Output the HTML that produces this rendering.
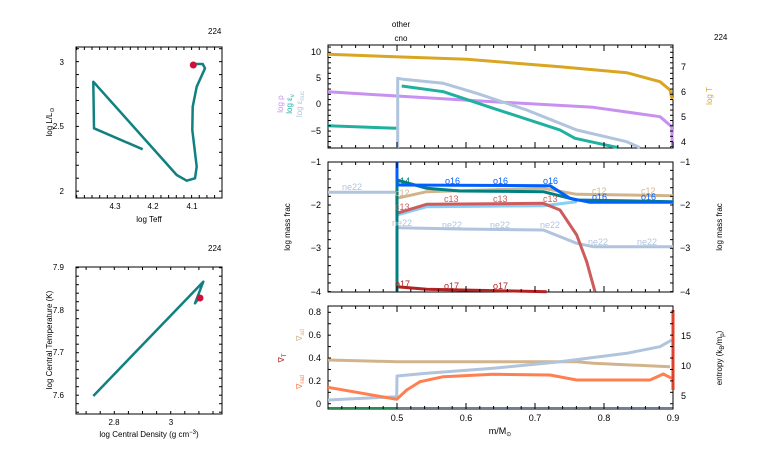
<!DOCTYPE html>
<html><head><meta charset="utf-8"><style>
body{margin:0;background:#fff;}
svg{display:block;font-family:"Liberation Sans",sans-serif;}
</style></head><body>
<svg id="s" width="766" height="460" viewBox="0 0 766 460" xmlns="http://www.w3.org/2000/svg">
<rect width="766" height="460" fill="#fff"/>
<g font-size="8" fill="#000">
<!-- Left top: HR -->
<text x="208" y="34">224</text>
<rect x="76" y="47" width="146" height="151" fill="none" stroke="#000" stroke-width="1"/>
<text x="64" y="65" text-anchor="end">3</text>
<text x="64" y="129" text-anchor="end">2.5</text>
<text x="64" y="194" text-anchor="end">2</text>
<text x="115" y="209" text-anchor="middle">4.3</text>
<text x="153" y="209" text-anchor="middle">4.2</text>
<text x="192" y="209" text-anchor="middle">4.1</text>
<text x="149" y="222" text-anchor="middle">log Teff</text>
<text transform="translate(52,122) rotate(-90)" text-anchor="middle">log L/L<tspan font-size="6" dy="2">⊙</tspan></text>
<polyline fill="none" stroke="#118080" stroke-width="2.5" stroke-linejoin="round" points="142.7,149.3 94,128.3 93.3,81.7 176.7,175 186.7,180.7 195,178.3 196.7,166.7 192.3,130 192.7,106.7 196.7,86.7 205,68.3 202.7,64 193.3,64"/>
<circle cx="193.3" cy="65" r="3.5" fill="#d0103a"/>
<!-- Left bottom -->
<text x="208" y="251">224</text>
<rect x="76" y="267" width="146" height="147" fill="none" stroke="#000" stroke-width="1"/>
<text x="64" y="270" text-anchor="end">7.9</text>
<text x="64" y="313" text-anchor="end">7.8</text>
<text x="64" y="355" text-anchor="end">7.7</text>
<text x="64" y="398" text-anchor="end">7.6</text>
<text x="114" y="425" text-anchor="middle">2.8</text>
<text x="171" y="425" text-anchor="middle">3</text>
<text x="149" y="437" text-anchor="middle">log Central Density (g cm<tspan font-size="6" dy="-3">−3</tspan><tspan dy="3">)</tspan></text>
<text transform="translate(52,340) rotate(-90)" text-anchor="middle">log Central Temperature (K)</text>
<polyline fill="none" stroke="#118080" stroke-width="2.5" stroke-linejoin="round" points="93.3,396 203.3,281.7 195,303.3 200,296.7"/>
<circle cx="200" cy="298" r="3.5" fill="#d0103a"/>

<!-- Right top -->
<text x="401" y="27" text-anchor="middle">other</text>
<text x="401" y="41" text-anchor="middle">cno</text>
<text x="714" y="40">224</text>
<rect x="328" y="45" width="345" height="103" fill="none" stroke="#000"/>
<text x="321" y="55" text-anchor="end" font-size="9">10</text>
<text x="321" y="81" text-anchor="end" font-size="9">5</text>
<text x="321" y="107" text-anchor="end" font-size="9">0</text>
<text x="321" y="134" text-anchor="end" font-size="9">−5</text>
<text x="681" y="70" font-size="9">7</text>
<text x="681" y="95" font-size="9">6</text>
<text x="681" y="120" font-size="9">5</text>
<text x="681" y="145" font-size="9">4</text>
<text transform="translate(283,104) rotate(-90)" fill="#c890f0" text-anchor="middle">log ρ</text>
<text transform="translate(292,104) rotate(-90)" fill="#20b0a0" text-anchor="middle">log ε<tspan font-size="6" dy="2">ν</tspan></text>
<text transform="translate(302,104) rotate(-90)" fill="#b0c4de" text-anchor="middle">log ε<tspan font-size="6" dy="2">nuc</tspan></text>
<text transform="translate(712,96) rotate(-90)" fill="#daa520" text-anchor="middle">log T</text>
<g fill="none" stroke-width="3" stroke-linejoin="round">
<polyline stroke="#daa520" points="328,54.3 466.7,59.3 560,66.7 626.7,72.7 660,81.7 670,90 672.3,100"/>
<polyline stroke="#c890f0" points="328,91.7 396.7,96 493.3,101.7 593.3,107.3 660,116.7 671.7,126.7 672.5,148"/>
<polyline stroke="#20b0a0" points="328,125.7 396.7,128.3"/>
<polyline stroke="#20b0a0" points="401.7,86 443.3,91.7 493.3,108.3 560,130 575,138.3 618.3,147.7"/>
<polyline stroke="#b0c4de" points="397.7,148 397.7,78.3 403.3,79.3 443.3,83.3 476.7,93.3 526.7,110 560,123.3 576.7,130 626.7,141.7 640,147.7"/>
</g>

<!-- Right middle -->
<rect x="328" y="162" width="345" height="130" fill="none" stroke="#000"/>
<g font-size="9">
<text x="321" y="165" text-anchor="end">−1</text>
<text x="321" y="208" text-anchor="end">−2</text>
<text x="321" y="251" text-anchor="end">−3</text>
<text x="321" y="295" text-anchor="end">−4</text>
<text x="680" y="165">−1</text>
<text x="680" y="208">−2</text>
<text x="680" y="251">−3</text>
<text x="680" y="295">−4</text>
</g>
<text transform="translate(290,227) rotate(-90)" text-anchor="middle">log mass frac</text>
<text transform="translate(722,227) rotate(-90)" text-anchor="middle">log mass frac</text>
<g fill="none" stroke-width="3" stroke-linejoin="round">
<polyline stroke="#b0c4de" points="328,192.3 396.7,192.3 397,227.7 460,229 543.3,230 576.7,243.3 593.3,246.7 673,246.7"/>
<polyline stroke="#d2b48c" points="396.7,198.3 426.7,191.7 543.3,188.3 576.7,194.3 673,195.7"/>
<polyline stroke="#87cefa" points="396.7,215 426.7,206.7 543.3,205.7 576.7,201.7"/>
<polyline stroke="#cd5c5c" points="396.7,213.3 426.7,204.3 543.3,203.3 560,210 576.7,235 586.7,261.7 595,291.7"/>
<polyline stroke="#b22222" points="396.7,286.7 426.7,289.3 546.7,291.7"/>
<polyline stroke="#008080" points="397,292 397,180 426.7,188.3 460,191 543.3,191.7 576.7,200 673,201.7"/>
<polyline stroke="#0060ff" points="397,162 397,185 550,185.7 570,198.3 590,202.3 673,202.3"/>
</g>
<g font-size="9">
<text x="342" y="190" fill="#b0c4de">ne22</text>
<text x="392" y="226" fill="#b0c4de">ne22</text><text x="442" y="228" fill="#b0c4de">ne22</text><text x="490" y="228" fill="#b0c4de">ne22</text><text x="540" y="228" fill="#b0c4de">ne22</text><text x="588" y="245" fill="#b0c4de">ne22</text><text x="637" y="245" fill="#b0c4de">ne22</text>
<text x="395" y="196" fill="#d2b48c">c12</text><text x="592" y="194" fill="#d2b48c">c12</text><text x="641" y="194" fill="#d2b48c">c12</text>
<text x="395" y="210" fill="#cd5c5c">c13</text><text x="444" y="202" fill="#cd5c5c">c13</text><text x="493" y="202" fill="#cd5c5c">c13</text><text x="543" y="202" fill="#cd5c5c">c13</text>
<text x="395" y="184" fill="#008080">n14</text>
<text x="445" y="184" fill="#0060ff">o16</text><text x="493" y="184" fill="#0060ff">o16</text><text x="543" y="184" fill="#0060ff">o16</text><text x="592" y="200" fill="#0060ff">o16</text><text x="641" y="200" fill="#0060ff">o16</text>
<text x="395" y="287" fill="#b22222">o17</text><text x="444" y="289" fill="#b22222">o17</text><text x="493" y="289" fill="#b22222">o17</text>
</g>

<!-- Right bottom -->
<rect x="328" y="306" width="345" height="103" fill="none" stroke="#000"/>
<g font-size="9">
<text x="321" y="315" text-anchor="end">0.8</text>
<text x="321" y="338" text-anchor="end">0.6</text>
<text x="321" y="361" text-anchor="end">0.4</text>
<text x="321" y="384" text-anchor="end">0.2</text>
<text x="321" y="407" text-anchor="end">0</text>
<text x="681" y="339">15</text>
<text x="681" y="369">10</text>
<text x="681" y="399">5</text>
<text x="397" y="421" text-anchor="middle">0.5</text>
<text x="466" y="421" text-anchor="middle">0.6</text>
<text x="535" y="421" text-anchor="middle">0.7</text>
<text x="604" y="421" text-anchor="middle">0.8</text>
<text x="673" y="421" text-anchor="middle">0.9</text>
</g>
<text x="500" y="434" text-anchor="middle" font-size="9">m/M<tspan font-size="6" dy="2">⊙</tspan></text>
<text transform="translate(722,358) rotate(-90)" text-anchor="middle">entropy (k<tspan font-size="6" dy="2">B</tspan><tspan dy="-2">/m</tspan><tspan font-size="6" dy="2">p</tspan><tspan dy="-2">)</tspan></text>
<text transform="translate(302,335) rotate(-90)" fill="#d2b48c" text-anchor="middle">∇<tspan font-size="6" dy="2">ad</tspan></text>
<text transform="translate(284,358) rotate(-90)" fill="#b22222" text-anchor="middle">∇<tspan font-size="6" dy="2">T</tspan></text>
<text transform="translate(302,382) rotate(-90)" fill="#ff7f50" text-anchor="middle">∇<tspan font-size="6" dy="2">rad</tspan></text>
<g fill="none" stroke-width="3" stroke-linejoin="round">
<polyline stroke="#d2b48c" points="328,360 396.7,361.7 576.7,361.7 593.3,363.3 670,366.7"/>
<polyline stroke="#b0c4de" points="328,400 396.7,396.7 397,376 426.7,373.3 493.3,368.3 560,361.7 626.7,353.3 660,346.7 671.7,340"/>
<polyline stroke="#ff7f50" points="328,387.3 396.7,399.3 406.7,390 420,381.7 443.3,376.7 493.3,374.3 550,375 576.7,380 650,380 663.3,374 671.7,378.3"/>
<line stroke="#e0402a" x1="673" y1="310" x2="673" y2="390"/>
<line stroke="#2e8b57" x1="328" y1="408" x2="397" y2="408" stroke-width="2"/>
<line stroke="#708090" x1="397" y1="408" x2="673" y2="408" stroke-width="2"/>
</g>
</g>
<g id="ticks" stroke="#000" stroke-width="1"></g>
</svg>
<script>
var g=document.getElementById('ticks'),h='';
function L(a,b,c,d){h+='<line x1="'+a+'" y1="'+b+'" x2="'+c+'" y2="'+d+'"/>';}
function xt(x0,x1,y0,y1,start,step,n,len){for(var i=0;i<n;i++){var x=start+i*step;if(x<x0||x>x1)continue;L(x,y0,x,y0-len);L(x,y1,x,y1+len);}}
function yt(y0,y1,x0,x1,start,step,n,len){for(var i=0;i<n;i++){var y=start+i*step;if(y<y0||y>y1)continue;L(x0,y,x0+len,y);L(x1,y,x1-len,y);}}
// right panels x ticks (0.02 steps = 13.8px)
[[45,148],[162,292],[306,409]].forEach(function(p){xt(328,673,p[1],p[0],328,13.8,30,3);});
for(var i=0;i<5;i++){var x=397+i*69;[[45,148],[162,292],[306,409]].forEach(function(p){L(x,p[1],x,p[1]-6);L(x,p[0],x,p[0]+6);});}
yt(45,148,328,673,52.3-5.25*2,5.25,30,3);
yt(162,292,328,673,161.7,8.66,16,3);
yt(306,409,328,673,312.3,11.43,10,3);
// left panels
xt(76,222,198,47,115-38.3,7.66,25,3);
yt(47,198,76,222,61.7-13,12.95,14,3);
xt(76,222,414,267,114.3-28.2*2,14.1,14,3);
yt(267,414,76,222,267.7,8.5,18,3);
g.innerHTML=h;
</script>
</body></html>
